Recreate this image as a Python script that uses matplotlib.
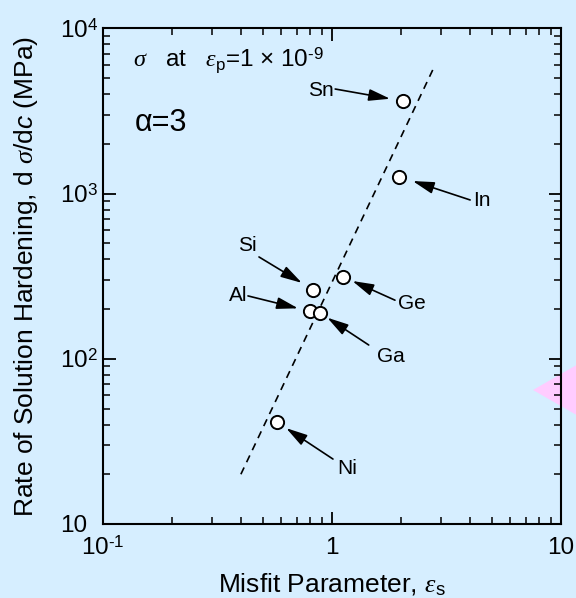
import matplotlib
matplotlib.use("Agg")
import matplotlib.pyplot as plt
from matplotlib.patches import Polygon

# ---- data ----
elements = ["Sn", "In", "Si", "Ge", "Al", "Ga", "Ni"]
misfit = [2.04, 1.97, 0.826, 1.12, 0.799, 0.884, 0.575]
hardening = [3630, 1265, 262, 313, 194, 190, 41.4]
fit_x = [0.40, 2.82]
fit_y = [20, 6000]
xtick_vals = [0.1, 1, 10]
xtick_labels = [r"10$^{\text{-1}}$", "1", "10"]
ytick_vals = [10, 100, 1000, 10000]
ytick_labels = ["10", r"10$^{\mathrm{2}}$", r"10$^{\mathrm{3}}$", r"10$^{\mathrm{4}}$"]

# annotation layout (pixel offsets from the point): tail, label pos, ha, head gap
ann_layout = {
    "Sn": ((-67.7, -12), (-69, -11), "right", 13),
    "In": ((70.7, 23.3), (74, 24.3), "left", 14),
    "Si": ((-54, -32.7), (-66, -43.7), "center", 13),
    "Ge": ((51.7, 23.3), (55, 27), "left", 10),
    "Al": ((-61.7, -15.3), (-62, -15.8), "right", 12),
    "Ga": ((49, 32.3), (70.8, 44), "center", 9),
    "Ni": ((56, 37), (70, 46), "center", 11),
}

bg = "#D6EEFF"
plt.rcParams["font.family"] = ["Liberation Sans", "DejaVu Sans"]
plt.rcParams["mathtext.fontset"] = "custom"
plt.rcParams["mathtext.rm"] = "Liberation Sans"
plt.rcParams["mathtext.it"] = "Liberation Serif:italic"
plt.rcParams["mathtext.sf"] = "Liberation Sans:italic"

fig = plt.figure(figsize=(5.76, 5.98), dpi=100, facecolor=bg)
ax = fig.add_axes([103 / 576, 1 - 524 / 598, (561 - 103) / 576, (524 - 28.3) / 598])
ax.set_facecolor("none")

ax.set_xscale("log")
ax.set_yscale("log")
ax.set_xlim(0.1, 10)
ax.set_ylim(10, 10000)

ax.plot(fit_x, fit_y, color="black", lw=1.2, ls=(0, (4.5, 3.5)), zorder=2)
ax.plot(misfit, hardening, ls="none", marker="o", ms=9.5, mfc="white",
        mec="black", mew=1.4, zorder=3)

for name, x, y in zip(elements, misfit, hardening):
    tail, lab, ha, gap = ann_layout[name]
    ax.annotate("", xy=(x, y), xytext=(tail[0], -tail[1]), textcoords="offset pixels",
                arrowprops=dict(arrowstyle="-|>,head_length=1.3,head_width=0.36",
                                mutation_scale=10, color="black", lw=1.2,
                                shrinkA=0, shrinkB=gap * 0.72))
    ax.annotate(name, xy=(x, y), xytext=(lab[0], -lab[1]), textcoords="offset pixels",
                ha=ha, va="center", fontsize=15)

ax.set_xticks(xtick_vals)
ax.set_xticklabels(xtick_labels)
ax.set_yticks(ytick_vals)
ax.set_yticklabels(ytick_labels)
ax.tick_params(which="both", direction="in", top=True, right=True, color="black")
ax.tick_params(which="major", length=9, width=1.3, labelsize=17.5)
ax.tick_params(axis="x", which="major", pad=9)
ax.tick_params(axis="y", which="major", pad=31)
for lbl in ax.get_yticklabels():
    lbl.set_horizontalalignment("left")
ax.tick_params(which="minor", length=5, width=1.1)
for s in ax.spines.values():
    s.set_linewidth(1.5)

ax.set_xlabel(r"Misfit Parameter, $\varepsilon_{\mathrm{s}}$", fontsize=19, labelpad=8)
ax.set_ylabel(r"Rate of Solution Hardening, d $\sigma$/d$\mathsf{c}$ (MPa)", fontsize=19, labelpad=14)

ax.text(30 / 458, 1 - 38.5 / 495.7,
        r"$\sigma$   at   $\varepsilon_{\mathrm{p}}$=1 $\times$ 10$^{\text{-9}}$",
        transform=ax.transAxes, fontsize=17.5, ha="left", va="baseline")
ax.text(32 / 458, 1 - 102.4 / 495.7, "α=3", transform=ax.transAxes,
        fontsize=22, ha="left", va="baseline")

tri = Polygon([(533 / 576, 1 - 390 / 598), (1.01, 1 - 362 / 598), (1.01, 1 - 418 / 598)],
              closed=True, transform=fig.transFigure, facecolor="#FFCCFF",
              edgecolor="none", zorder=-1)
fig.patches.append(tri)

fig.savefig("out.png", dpi=100, facecolor=bg)
